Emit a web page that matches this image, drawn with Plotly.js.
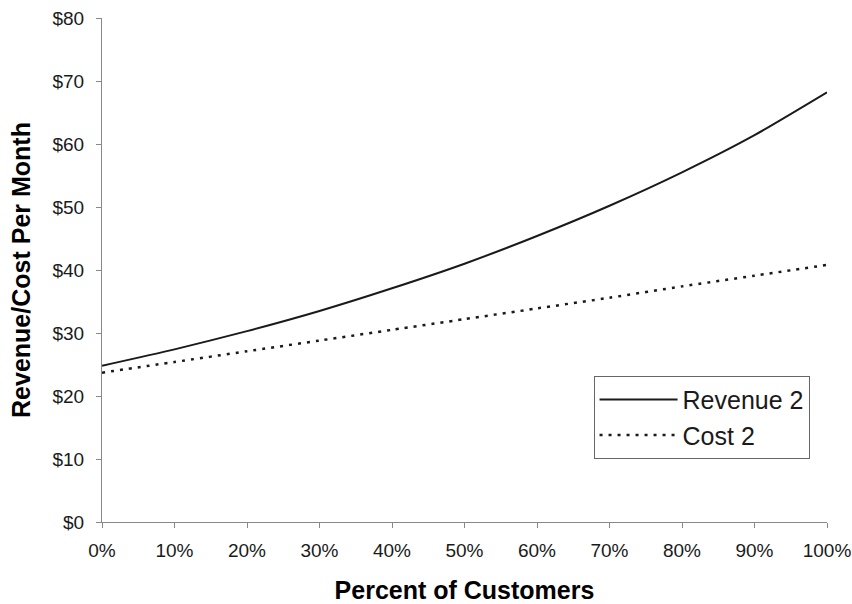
<!DOCTYPE html>
<html>
<head>
<meta charset="utf-8">
<script src="https://cdn.plot.ly/plotly-3.0.1.min.js"></script>
<style>
  html, body { margin: 0; padding: 0; background: #fff; }
  #chart { width: 852px; height: 604px; }
</style>
</head>
<body>
<div id="chart"></div>
<script>
// Percent of customers (x, in %)
var percentCustomers = [0, 10, 20, 30, 40, 50, 60, 70, 80, 90, 100];
// Revenue 2 ($ per month)
var revenue2 = [24.8, 27.4, 30.3, 33.5, 37.1, 41.0, 45.4, 50.2, 55.5, 61.4, 68.2];
// Cost 2 ($ per month)
var cost2 = [23.7, 25.4, 27.1, 28.8, 30.5, 32.2, 33.9, 35.6, 37.4, 39.1, 40.8];
// Axis ticks and their labels
var xTicks = [0, 10, 20, 30, 40, 50, 60, 70, 80, 90, 100];
var xTickLabels = ['0%', '10%', '20%', '30%', '40%', '50%', '60%', '70%', '80%', '90%', '100%'];
var yTicks = [0, 10, 20, 30, 40, 50, 60, 70, 80];
var yTickLabels = ['$0', '$10', '$20', '$30', '$40', '$50', '$60', '$70', '$80'];

var FONT = 'Liberation Sans, Arial, Helvetica, sans-serif';

var traces = [
  {
    x: percentCustomers, y: revenue2, name: 'Revenue 2', legendgroup: 'rev',
    type: 'scatter', mode: 'lines',
    line: { color: '#1a1a1a', width: 2, shape: 'spline', smoothing: 0.6 }
  },
  {
    x: percentCustomers, y: cost2, name: 'Cost 2', legendgroup: 'cost',
    type: 'scatter', mode: 'lines',
    line: { color: '#1a1a1a', width: 2.5, dash: '3px,6px', shape: 'spline', smoothing: 0.6 }
  }
];

var layout = {
  width: 852, height: 604,
  margin: { l: 102, r: 25, t: 18, b: 82 },
  paper_bgcolor: '#ffffff', plot_bgcolor: '#ffffff',
  font: { family: FONT, color: '#1a1a1a', size: 19 },
  showlegend: true,
  legend: {
    x: 0.678, y: 0.29, xanchor: 'left', yanchor: 'top',
    bgcolor: 'rgba(255,255,255,0)',
    bordercolor: '#666', borderwidth: 1,
    font: { family: FONT, size: 25, color: '#1a1a1a' },
    itemwidth: 78, tracegroupgap: 1, traceorder: 'normal'
  },
  xaxis: {
    range: [0, 100], tickmode: 'array', tickvals: xTicks, ticktext: xTickLabels,
    showgrid: false, zeroline: false,
    showline: true, linecolor: '#888', linewidth: 1,
    ticks: 'outside', ticklen: 5, tickcolor: '#888',
    ticklabelstandoff: 6,
    tickfont: { family: FONT, size: 19, color: '#1a1a1a' },
    title: { text: 'Percent of Customers', font: { family: FONT, size: 25, color: '#000', weight: 'bold' }, standoff: 24 }
  },
  yaxis: {
    range: [0, 80], tickmode: 'array', tickvals: yTicks, ticktext: yTickLabels,
    showgrid: false, zeroline: false,
    showline: true, linecolor: '#888', linewidth: 1,
    ticks: 'outside', ticklen: 5, tickcolor: '#888',
    ticklabelstandoff: 8,
    tickfont: { family: FONT, size: 19, color: '#1a1a1a' },
    title: { text: 'Revenue/Cost Per Month', font: { family: FONT, size: 25, color: '#000', weight: 'bold' }, standoff: 14 }
  }
};

Plotly.newPlot('chart', traces, layout, { displayModeBar: false, staticPlot: true });
</script>
</body>
</html>
